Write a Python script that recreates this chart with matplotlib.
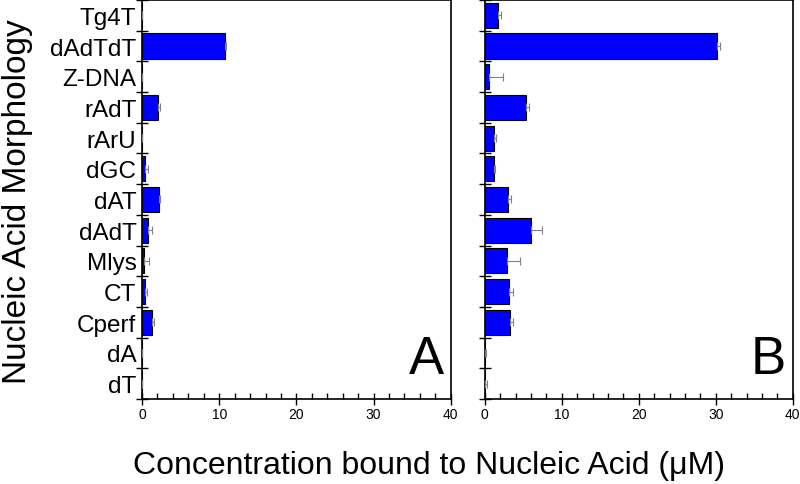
import numpy as np
import matplotlib
matplotlib.use("Agg")
import matplotlib.pyplot as plt
from matplotlib.ticker import MultipleLocator, FixedLocator

plt.rcParams['font.family'] = ['Liberation Sans', 'DejaVu Sans']

categories = ["Tg4T", "dAdTdT", "Z-DNA", "rAdT", "rArU", "dGC", "dAT",
              "dAdT", "Mlys", "CT", "Cperf", "dA", "dT"]

# panel A
values_a = [0, 10.7, 0, 2.1, 0, 0.4, 2.2, 0.8, 0.3, 0.4, 1.3, 0, 0]
errors_a = [0, 0.15, 0, 0.2, 0, 0.4, 0.15, 0.5, 0.6, 0.2, 0.3, 0, 0]
# panel B
values_b = [1.7, 30.2, 0.5, 5.4, 1.2, 1.2, 3.0, 6.0, 2.9, 3.2, 3.3, 0, 0]
errors_b = [0.35, 0.3, 1.9, 0.4, 0.3, 0.15, 0.4, 1.4, 1.7, 0.45, 0.4, 0.2, 0.3]

fig = plt.figure(figsize=(8, 4.85), dpi=100)
ax_a = fig.add_axes([0.1775, 0.1753, 0.386, 0.8227])
ax_b = fig.add_axes([0.606, 0.1753, 0.385, 0.8227])

y = np.arange(len(categories))

for ax, vals, errs, letter in [(ax_a, values_a, errors_a, "A"),
                               (ax_b, values_b, errors_b, "B")]:
    ax.barh(y, vals, height=0.82, color="#0000ff", edgecolor="black",
            linewidth=0.8, zorder=2)
    ax.errorbar(vals, y, xerr=[np.zeros(len(errs)), errs], fmt="none",
                ecolor="#808080", elinewidth=0.8, capsize=3, capthick=0.8,
                zorder=3)
    ax.set_xlim(0, 40)
    ax.set_ylim(len(categories) - 0.5, -0.5)
    ax.xaxis.set_major_locator(MultipleLocator(10))
    ax.xaxis.set_minor_locator(MultipleLocator(2))
    ax.tick_params(axis="x", which="major", direction="inout", length=8,
                   width=1, labelsize=10, pad=2)
    ax.tick_params(axis="x", which="minor", direction="in", length=4, width=1)
    ax.set_yticks(y)
    ax.yaxis.set_minor_locator(FixedLocator(np.arange(-0.5, len(categories), 1)))
    ax.tick_params(axis="y", which="major", length=0, labelsize=17.5, pad=4)
    ax.tick_params(axis="y", which="minor", direction="inout", length=8, width=1)
    for sp in ax.spines.values():
        sp.set_linewidth(1.2)
    ax.text(0.92, 0.1, letter, transform=ax.transAxes, fontsize=38,
            ha="center", va="center")

ax_a.set_yticklabels(categories)
ax_b.set_yticklabels([])

fig.text(0.022, 0.585, "Nucleic Acid Morphology", rotation=90, fontsize=24,
         ha="center", va="center")
fig.text(0.536, 0.04, "Concentration bound to Nucleic Acid (\u03bcM)",
         fontsize=23, ha="center", va="center")

fig.savefig("out.png", dpi=100)
